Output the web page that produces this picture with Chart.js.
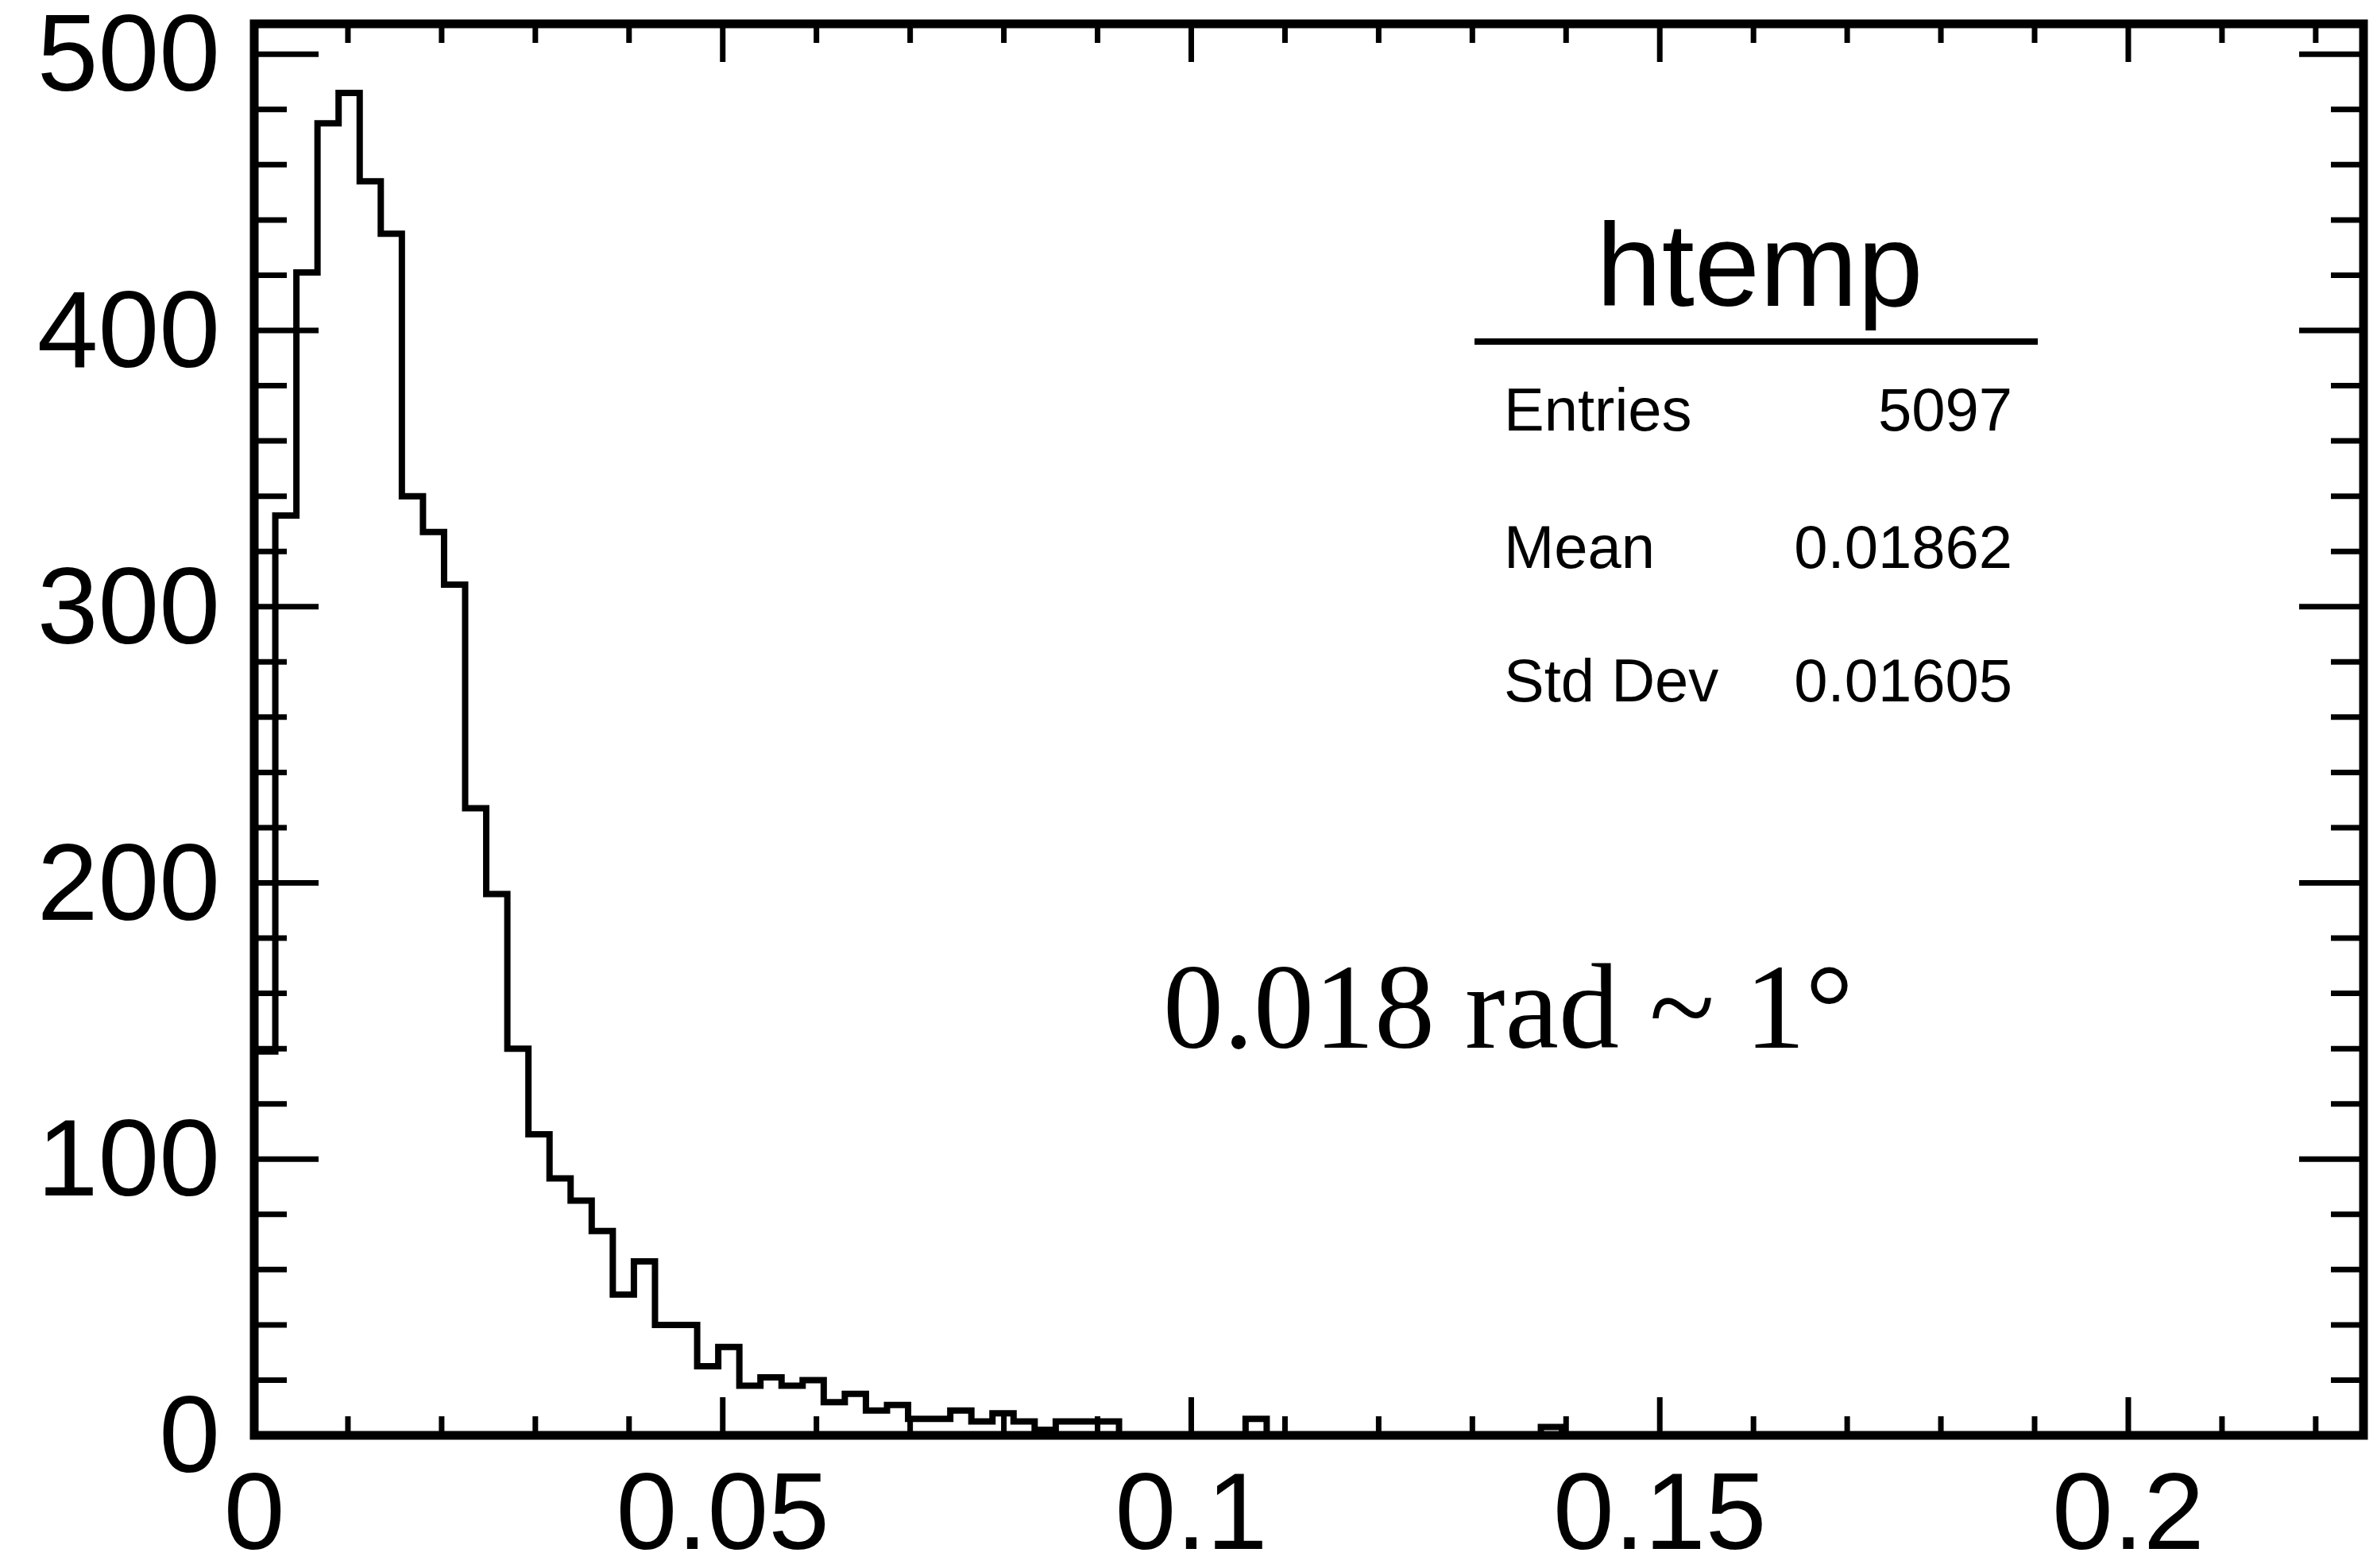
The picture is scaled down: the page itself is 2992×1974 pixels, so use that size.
<!DOCTYPE html>
<html>
<head>
<meta charset="utf-8">
<script src="https://cdn.jsdelivr.net/npm/chart.js@4.4.1/dist/chart.umd.min.js"></script>
<style>
    html, body { margin: 0; padding: 0; background: #fff; }
    #wrap { width: 2992px; height: 1974px; }
</style>
</head>
<body>
<div id="wrap"><canvas id="chart" width="2992" height="1974"></canvas></div>
<script>
// Histogramme htemp : 100 bins de 0 a ~0.225 rad
const nBins = 100;
const binWidth = 0.002251;
const counts = [
    139, 333, 421, 475, 486, 454, 435, 340, 327, 308,
    227, 196, 140, 109, 93, 85, 74, 51, 63, 40,
    40, 25, 32, 18, 21, 18, 20, 12, 15, 9,
    11, 6, 6, 9, 5, 8, 5, 2, 5, 5,
    5, 0, 0, 0, 0, 0, 0, 6, 0, 0,
    0, 0, 0, 0, 0, 0, 0, 0, 0, 0,
    0, 3, 0, 0, 0, 0, 0, 0, 0, 0,
    0, 0, 0, 0, 0, 0, 0, 0, 0, 0,
    0, 0, 0, 0, 0, 0, 0, 0, 0, 0,
    0, 0, 0, 0, 0, 0, 0, 0, 0, 0
];
const xTickValues = [0, 0.05, 0.1, 0.15, 0.2];
const xTickLabels = ['0', '0.05', '0.1', '0.15', '0.2'];
const yTickValues = [0, 100, 200, 300, 400, 500];
const yTickLabels = ['0', '100', '200', '300', '400', '500'];
const yMax = 511;

const histTitle = 'htemp';
const statsLabels = ['Entries', 'Mean', 'Std Dev'];
const statsValues = ['5097', '0.01862', '0.01605'];
const annotation = '0.018 rad ~ 1°';

const SANS = '"Liberation Sans", Arial, sans-serif';
const SERIF = '"Liberation Serif", "Times New Roman", serif';

// points du contour (marches) construits depuis les bins
const points = counts.map((c, i) => ({ x: i * binWidth, y: c }));
points.push({ x: nBins * binWidth, y: counts[nBins - 1] });

// Cadre, graduations style ROOT, boite de stats et annotation
const rootFrame = {
    id: 'rootFrame',
    afterDraw(chart) {
        const { ctx, chartArea: a, scales: { x, y } } = chart;
        ctx.save();
        ctx.strokeStyle = '#000';
        ctx.fillStyle = '#000';
        ctx.lineCap = 'butt';

        // graduations x (bas et haut)
        ctx.lineWidth = 7;
        for (let k = 0; k * 0.01 <= nBins * binWidth; k++) {
            const px = x.getPixelForValue(k * 0.01);
            const len = k % 5 === 0 ? 48 : 24;
            ctx.beginPath();
            ctx.moveTo(px, a.bottom); ctx.lineTo(px, a.bottom - len);
            ctx.moveTo(px, a.top); ctx.lineTo(px, a.top + len);
            ctx.stroke();
        }
        // graduations y (gauche et droite)
        for (let k = 0; k * 20 <= yMax; k++) {
            const py = y.getPixelForValue(k * 20);
            const len = k % 5 === 0 ? 81 : 41;
            ctx.beginPath();
            ctx.moveTo(a.left, py); ctx.lineTo(a.left + len, py);
            ctx.moveTo(a.right, py); ctx.lineTo(a.right - len, py);
            ctx.stroke();
        }

        // cadre
        ctx.lineWidth = 11;
        ctx.strokeRect(a.left, a.top, a.right - a.left, a.bottom - a.top);

        // boite de stats (sans bordure)
        ctx.font = '148px ' + SANS;
        ctx.textAlign = 'center';
        ctx.textBaseline = 'alphabetic';
        ctx.fillText(histTitle, 2215, 385);
        ctx.lineWidth = 8;
        ctx.beginPath();
        ctx.moveTo(1856, 430); ctx.lineTo(2565, 430);
        ctx.stroke();

        ctx.font = '76px ' + SANS;
        const rows = [542, 715, 883];
        statsLabels.forEach((lab, i) => {
            ctx.textAlign = 'left';
            ctx.fillText(lab, 1893, rows[i]);
            ctx.textAlign = 'right';
            ctx.fillText(statsValues[i], 2533, rows[i]);
        });

        // annotation
        ctx.font = '152px ' + SERIF;
        ctx.textAlign = 'left';
        ctx.fillText(annotation, 1464, 1319);
        ctx.restore();
    }
};

new Chart(document.getElementById('chart').getContext('2d'), {
    type: 'scatter',
    data: {
        datasets: [{
            label: histTitle,
            data: points,
            showLine: true,
            stepped: 'before',
            borderColor: '#000',
            borderWidth: 8,
            pointRadius: 0,
            fill: false,
            clip: false
        }]
    },
    options: {
        responsive: false,
        animation: false,
        devicePixelRatio: 1,
        layout: { padding: { left: 0, top: 30, right: 17, bottom: 0 } },
        plugins: {
            legend: { display: false },
            tooltip: { enabled: false }
        },
        scales: {
            x: {
                type: 'linear',
                min: 0,
                max: nBins * binWidth,
                grid: { display: false, drawTicks: false },
                border: { display: false },
                afterBuildTicks: (scale) => { scale.ticks = xTickValues.map(v => ({ value: v })); },
                afterFit: (scale) => {
                    scale.height = 167;
                    scale.paddingLeft = 0; scale.paddingRight = 0;
                    scale.paddingTop = 0; scale.paddingBottom = 0;
                },
                ticks: {
                    autoSkip: false,
                    maxRotation: 0,
                    padding: 22,
                    color: '#000',
                    font: { family: SANS, size: 138 },
                    callback: (v, i) => xTickLabels[i]
                }
            },
            y: {
                type: 'linear',
                min: 0,
                max: yMax,
                grid: { display: false, drawTicks: false },
                border: { display: false },
                afterBuildTicks: (scale) => { scale.ticks = yTickValues.map(v => ({ value: v })); },
                afterFit: (scale) => {
                    scale.width = 320;
                    scale.paddingLeft = 0; scale.paddingRight = 0;
                    scale.paddingTop = 0; scale.paddingBottom = 0;
                },
                ticks: {
                    autoSkip: false,
                    padding: 43,
                    labelOffset: 8,
                    color: '#000',
                    font: { family: SANS, size: 138 },
                    callback: (v, i) => yTickLabels[i]
                }
            }
        }
    },
    plugins: [rootFrame]
});
</script>
</body>
</html>
